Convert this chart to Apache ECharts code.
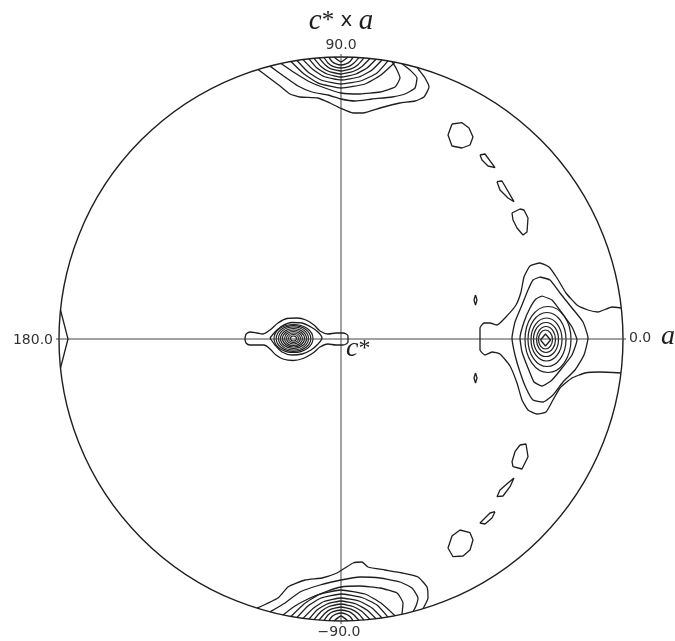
<!DOCTYPE html>
<html>
<head>
<meta charset="utf-8">
<script src="https://cdn.jsdelivr.net/npm/echarts/dist/echarts.min.js"></script>
<style>
html,body{margin:0;padding:0;background:#fff}
#main{width:675px;height:641px}
</style>
</head>
<body>
<div id="main"></div>
<script>
// projection plane, origin = c*, circle radius 282 units
let rimRadius = 282;
let axisLines = [
    [[-285, 0], [285, 0]],
    [[0, -285], [0, 285]]
];

// contours round the pole at the top (open, end on the rim)
let topContours = [
    [[-83,269.5],[-73,262],[-61,253],[-51,245],[-41,242],[-23,241],[-11,236],[-1,231],[12,226],[22,226],[39,231],[59,236],[74,238],[83,242],[88,252],[84,261],[78,269],[76,271.6]],
    [[-71,272.9],[-56,262],[-43,253],[-29,247],[-13,244],[0,240],[14,238],[31,240],[51,242],[64,245],[74,251],[76,261],[69,269],[61,275.3]],
    [[-60,275.5],[-46,266],[-31,257],[-16,251],[0,246],[19,245],[39,247],[54,252],[59,261],[55,271],[51,277.3]],
    [[-50,277.5],[-37,265],[-22,255.6],[0,251],[24,255],[40,264],[54,276.7]],
    [[-44,278.5],[-33,267],[-20,259],[0,255],[21,258.5],[36,266],[47,278.1]],
    [[-38,279.4],[-28,269.4],[-17,262.5],[0,259],[18,262],[31,269],[41,279]],
    [[-32,280.2],[-24,271],[-14,265],[0,262],[15,265],[26,271],[35,279.8]],
    [[-27,280.7],[-20,272.6],[-12,267.5],[0,265],[12,267.5],[21,272.6],[29,280.5]],
    [[-22,281.1],[-16,274.3],[-10,270.1],[0,268],[10,270.1],[17,274.3],[23,281.1]],
    [[-17,281.5],[-13,276],[-8,272.7],[0,271],[8,272.7],[13,276],[18,281.4]],
    [[-12,281.7],[-9,277.6],[-5,275.2],[0,274],[5,275.2],[9,277.6],[12,281.7]],
    [[-7,281.9],[0,277],[7,281.9]]
];

// contours round the pole at the bottom
let bottomContours = [
    [[-84,-269.2],[-63,-259],[-53,-248],[-36,-241],[-19,-239],[-4,-234],[4,-229],[12,-224],[21,-223],[27,-228],[44,-231],[61,-234],[77,-238],[86,-248],[87,-259],[82,-269.8]],
    [[-71,-272.9],[-56,-264],[-41,-253],[-21,-246],[0,-241],[19,-238],[39,-239],[59,-243],[71,-249],[77,-259],[75,-267],[72,-272.7]],
    [[-58,-276],[-46,-267],[-31,-259],[-16,-253],[0,-248],[19,-247],[39,-249],[56,-254],[62,-264],[61,-275.3]],
    [[-50,-277.5],[-37,-265],[-22,-255.6],[0,-251],[24,-255],[40,-264],[54,-276.7]],
    [[-44,-278.5],[-33,-267],[-20,-259],[0,-255],[21,-258.5],[36,-266],[47,-278.1]],
    [[-38,-279.4],[-28,-269.4],[-17,-262.5],[0,-259],[18,-262],[31,-269],[41,-279]],
    [[-32,-280.2],[-24,-271],[-14,-265],[0,-262],[15,-265],[26,-271],[35,-279.8]],
    [[-27,-280.7],[-20,-272.6],[-12,-267.5],[0,-265],[12,-267.5],[21,-272.6],[29,-280.5]],
    [[-22,-281.1],[-16,-274.3],[-10,-270.1],[0,-268],[10,-270.1],[17,-274.3],[23,-281.1]],
    [[-17,-281.5],[-13,-276],[-8,-272.7],[0,-271],[8,-272.7],[13,-276],[18,-281.4]],
    [[-12,-281.7],[-9,-277.6],[-5,-275.2],[0,-274],[5,-275.2],[9,-277.6],[12,-281.7]],
    [[-7,-281.9],[0,-277],[7,-281.9]]
];

// peak near c* (left of centre)
let centerOuter = [[-95,5],[-91,7],[-84,6],[-78,5],[-71,9],[-63,16],[-54,20.5],[-44,21],[-35,19],[-27,14],[-21,8],[-13,5],[-5,6],[2,6],[7,3],[7,-3],[2,-6],[-5,-6],[-13,-5],[-21,-8],[-28,-14],[-38,-19.5],[-48,-21.5],[-58,-20],[-65,-16],[-71,-10],[-77,-6],[-84,-6],[-91,-6],[-95,-4],[-96,0.5]];
let centerEye = [[-71,1],[-66,7],[-59,13],[-49,16.5],[-39,16],[-30,12],[-23,7],[-19,1],[-23,-5],[-30,-11],[-39,-15],[-49,-16],[-59,-13],[-66,-6]];
// rings: centre x, centre y, half width, half height
let centerRings = [
    [-47.5,0.5,3,2.5],[-47.5,0.5,5,4],[-47.5,0.5,7,5.5],[-47.5,0.5,9,7],[-47.5,0.5,11,8.5],
    [-47.5,0.5,13,10],[-47.5,0.5,15,11.5],[-47.5,0.5,17.3,12.8],[-47.5,0.5,19.5,14]
];

// peak near a (right)
let rightOuter = [[280,31],[271,32],[257,27],[247,29],[236,34],[225,46],[216,61],[208,72],[199,76],[189,73],[183,62],[180,47],[175,34],[164,21],[156,14],[149,16],[143,16],[139,11],[139,-1],[139,-11],[144,-16],[151,-13],[159,-15],[169,-27],[176,-44],[181,-61],[187,-71],[196,-75],[205,-73],[212,-61],[219,-49],[231,-39],[244,-34],[259,-33],[280,-34]];
let rightMid = [[199,62],[209,59],[219,46],[231,31],[242,17],[247,1],[243,-16],[234,-31],[222,-43],[212,-56],[202,-63],[192,-61],[185,-49],[179,-33],[174,-16],[171,1],[174,17],[181,34],[187,49],[192,59]];
let rightInner = [[201,43],[211,39],[221,26],[231,12],[236,-1],[231,-16],[221,-29],[211,-41],[201,-47],[193,-43],[187,-29],[181,-13],[179,1],[183,17],[189,31],[195,40]];
let rightRings = [
    [204.5,-0.5,7,9.5],[205,-0.5,9.5,13],[205,-0.5,12.5,17],[205.5,-0.5,15.5,21.5],[206,-0.5,19,27],[207,-0.5,23,33]
];
let rightCore = [[199.5,-1],[204.5,5],[209.5,-1],[204.5,-7]];

// small closed islands along the right arc
let islands = [
    [[111,215],[121,216.3],[128,211],[132,202],[129,194],[121,191],[111,193],[107,204]],
    [[139,184],[144,185],[154,171.3],[147,173],[141,179]],
    [[156,157.3],[161,158],[173,137.3],[167,141],[159,149]],
    [[171,126],[179,130],[183,129],[187,121],[186,107],[182,104],[176,111],[172,119]],
    [[134.5,44],[136,39],[134.5,34],[133,39]],
    [[134.5,-34],[136,-39],[134.5,-44],[133,-39]],
    [[179,-106],[185,-105],[187,-117.7],[181,-130],[172,-127.7],[171,-122.7],[174,-112.7]],
    [[173,-139],[169,-147.7],[162,-157],[156,-157.7],[159,-151],[167,-144]],
    [[154,-172.7],[151,-179],[144,-185],[139,-184],[149,-174]],
    [[119,-191],[129,-193.7],[132,-201],[129,-211],[122,-217],[112,-217.7],[107,-209],[111,-197]]
];
// piece at 180 on the rim
let edgeContour = [[-280.5,29],[-273,0],[-280.5,-29]];

let ink = '#1e1e1e';
let series = [];

function addLine(pts, closed, smooth, color, width) {
    let d = closed ? pts.concat([pts[0]]) : pts;
    series.push({
        type: 'line',
        data: d,
        symbol: 'none',
        smooth: smooth,
        silent: true,
        clip: false,
        lineStyle: {color: color || ink, width: width || 1.3}
    });
}

function ringSeries(rings) {
    return {
        type: 'custom',
        data: rings,
        silent: true,
        clip: false,
        renderItem: function (params, api) {
            let c = api.coord([api.value(0), api.value(1)]);
            let s = api.size([api.value(2), api.value(3)]);
            return {
                type: 'ellipse',
                shape: {cx: c[0], cy: c[1], rx: s[0], ry: s[1]},
                style: {fill: 'none', stroke: ink, lineWidth: 1.2}
            };
        }
    };
}

// outer circle
series.push({
    type: 'custom',
    data: [[0, 0, rimRadius]],
    silent: true,
    clip: false,
    renderItem: function (params, api) {
        let c = api.coord([api.value(0), api.value(1)]);
        let r = api.size([api.value(2), 0])[0];
        return {type: 'circle', shape: {cx: c[0], cy: c[1], r: r}, style: {fill: 'none', stroke: ink, lineWidth: 1.4}};
    }
});

axisLines.forEach(l => addLine(l, false, false, '#444', 1));
topContours.forEach(c => addLine(c, false, 0.15));
bottomContours.forEach(c => addLine(c, false, 0.15));
addLine(centerOuter, true, 0.3);
addLine(centerEye, true, 0.3);
series.push(ringSeries(centerRings));
addLine(rightOuter, false, 0.15);
addLine(rightMid, true, 0.15);
addLine(rightInner, true, 0.15);
series.push(ringSeries(rightRings));
addLine(rightCore, true, false);
islands.forEach(c => addLine(c, true, false));
addLine(edgeContour, false, false);

let numFont = '14px "DejaVu Sans"';
let serif = '"Liberation Serif", "DejaVu Serif", serif';

let option = {
    animation: false,
    backgroundColor: '#fff',
    grid: {left: 51, top: 49, width: 580, height: 580},
    xAxis: {type: 'value', min: -290, max: 290, show: false},
    yAxis: {type: 'value', min: -290, max: 290, show: false},
    graphic: [
        {type: 'text', x: 341, y: 21, style: {
            text: '{c|c}{s|*}{x| x }{c|a}', align: 'center', verticalAlign: 'middle', textAlign: 'center', textVerticalAlign: 'middle',
            fill: ink,
            rich: {
                c: {fontFamily: serif, fontStyle: 'italic', fontSize: 29, fill: ink},
                s: {fontFamily: serif, fontSize: 25, fill: ink},
                x: {fontFamily: '"DejaVu Sans"', fontSize: 20, fill: ink}
            }
        }},
        {type: 'text', x: 341, y: 45, style: {text: '90.0', font: numFont, fill: '#333', align: 'center', verticalAlign: 'middle', textAlign: 'center', textVerticalAlign: 'middle'}},
        {type: 'text', x: 339, y: 632, style: {text: '\u221290.0', font: numFont, fill: '#333', align: 'center', verticalAlign: 'middle', textAlign: 'center', textVerticalAlign: 'middle'}},
        {type: 'text', x: 53, y: 340, style: {text: '180.0', font: numFont, fill: '#333', align: 'right', verticalAlign: 'middle', textAlign: 'right', textVerticalAlign: 'middle'}},
        {type: 'text', x: 629, y: 338, style: {text: '0.0', font: numFont, fill: '#333', align: 'left', verticalAlign: 'middle', textAlign: 'left', textVerticalAlign: 'middle'}},
        {type: 'text', x: 661, y: 337, style: {text: 'a', font: 'italic 28px ' + serif, fill: ink, align: 'left', verticalAlign: 'middle', textAlign: 'left', textVerticalAlign: 'middle'}},
        {type: 'text', x: 346, y: 349, style: {
            text: '{c|c}{s|*}', align: 'left', verticalAlign: 'middle', textAlign: 'left', textVerticalAlign: 'middle',
            rich: {
                c: {fontFamily: serif, fontStyle: 'italic', fontSize: 28, fill: ink},
                s: {fontFamily: serif, fontSize: 24, fill: ink}
            }
        }}
    ],
    series: series
};

let myChart = echarts.init(document.getElementById('main'), null, {renderer: 'canvas'});
myChart.setOption(option);
</script>
</body>
</html>
